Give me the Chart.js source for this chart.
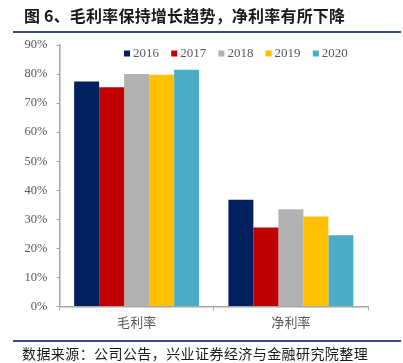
<!DOCTYPE html>
<html>
<head>
<meta charset="utf-8">
<script src="https://cdn.jsdelivr.net/npm/chart.js@4/dist/chart.umd.min.js"></script>
<style>
  html, body { margin: 0; padding: 0; background: #fff; }
  #wrap { position: relative; width: 403px; height: 363px; overflow: hidden; }
  #title { position: absolute; left: 24px; top: 3px; font: bold 16px "Noto Sans CJK SC"; color: #1a1a1a; white-space: nowrap; letter-spacing: 0.2px; }
  #topline { position: absolute; left: 13px; width: 388px; top: 31px; height: 2px; background: #3F4A8A; }
  #botline { position: absolute; left: 13px; width: 388px; top: 340px; height: 2px; background: #3F4A8A; }
  #source { position: absolute; left: 22px; top: 343px; font: 14px "Noto Sans CJK SC"; color: #1a1a1a; white-space: nowrap; letter-spacing: 0.42px; }
  #c { position: absolute; left: 0; top: 0; }
</style>
</head>
<body>
<div id="wrap">
  <canvas id="c" width="403" height="363"></canvas>
  <div id="title">图 6、毛利率保持增长趋势，净利率有所下降</div>
  <div id="topline"></div>
  <div id="botline"></div>
  <div id="source">数据来源：公司公告，兴业证券经济与金融研究院整理</div>
</div>
<script>
const categories = ["毛利率", "净利率"];
const years = ["2016", "2017", "2018", "2019", "2020"];
const v2016 = [77.4, 36.7];
const v2017 = [75.5, 27.2];
const v2018 = [80.0, 33.5];
const v2019 = [79.8, 31.0];
const v2020 = [81.5, 24.5];
const yTicks = [0, 10, 20, 30, 40, 50, 60, 70, 80, 90];
const colors = ["#002060", "#C00000", "#B2B2B2", "#FFC000", "#4BACC6"];
const series = [v2016, v2017, v2018, v2019, v2020];

const legendPlugin = {
  id: 'inlineLegend',
  afterDraw(chart) {
    const ctx = chart.ctx;
    ctx.save();
    ctx.font = '13px "Liberation Serif"';
    ctx.textBaseline = 'middle';
    chart.data.datasets.forEach((ds, i) => {
      const x = 124 + i * 47.2;
      const y = 53.5;
      ctx.fillStyle = ds.backgroundColor;
      ctx.fillRect(x, y - 3, 6, 6);
      ctx.fillStyle = '#595959';
      ctx.fillText(ds.label, x + 9, y + 0.5);
    });
    ctx.restore();
  }
};

new Chart(document.getElementById('c'), {
  type: 'bar',
  data: {
    labels: categories,
    datasets: years.map((y, i) => ({
      label: y,
      data: series[i],
      backgroundColor: colors[i],
      borderWidth: 0,
      categoryPercentage: 0.81,
      barPercentage: 1.0
    }))
  },
  options: {
    responsive: false,
    animation: false,
    devicePixelRatio: 1,
    layout: { padding: { top: 45, left: 0, right: 35, bottom: 0 } },
    plugins: { legend: { display: false }, tooltip: { enabled: false }, title: { display: false } },
    scales: {
      x: {
        grid: { display: true, drawOnChartArea: false, offset: true, tickLength: 4, color: '#A6A6A6', lineWidth: 1 },
        border: { color: '#A6A6A6', width: 1.5 },
        ticks: { color: '#595959', font: { family: '"Noto Sans CJK SC"', size: 13 }, padding: 4 },
        afterFit(scale) { scale.height = 56.5; }
      },
      y: {
        min: 0, max: 90,
        afterBuildTicks(scale) { scale.ticks = yTicks.map(v => ({ value: v })); },
        grid: { display: true, drawOnChartArea: false, tickLength: 3, color: '#A6A6A6', lineWidth: 1 },
        border: { color: '#A6A6A6', width: 1.5 },
        ticks: { color: '#595959', font: { family: '"Liberation Serif"', size: 12.5 }, padding: 9,
                 callback: v => v + '%' },
        afterFit(scale) { scale.width = 59.5; }
      }
    }
  },
  plugins: [legendPlugin]
});
</script>
</body>
</html>
